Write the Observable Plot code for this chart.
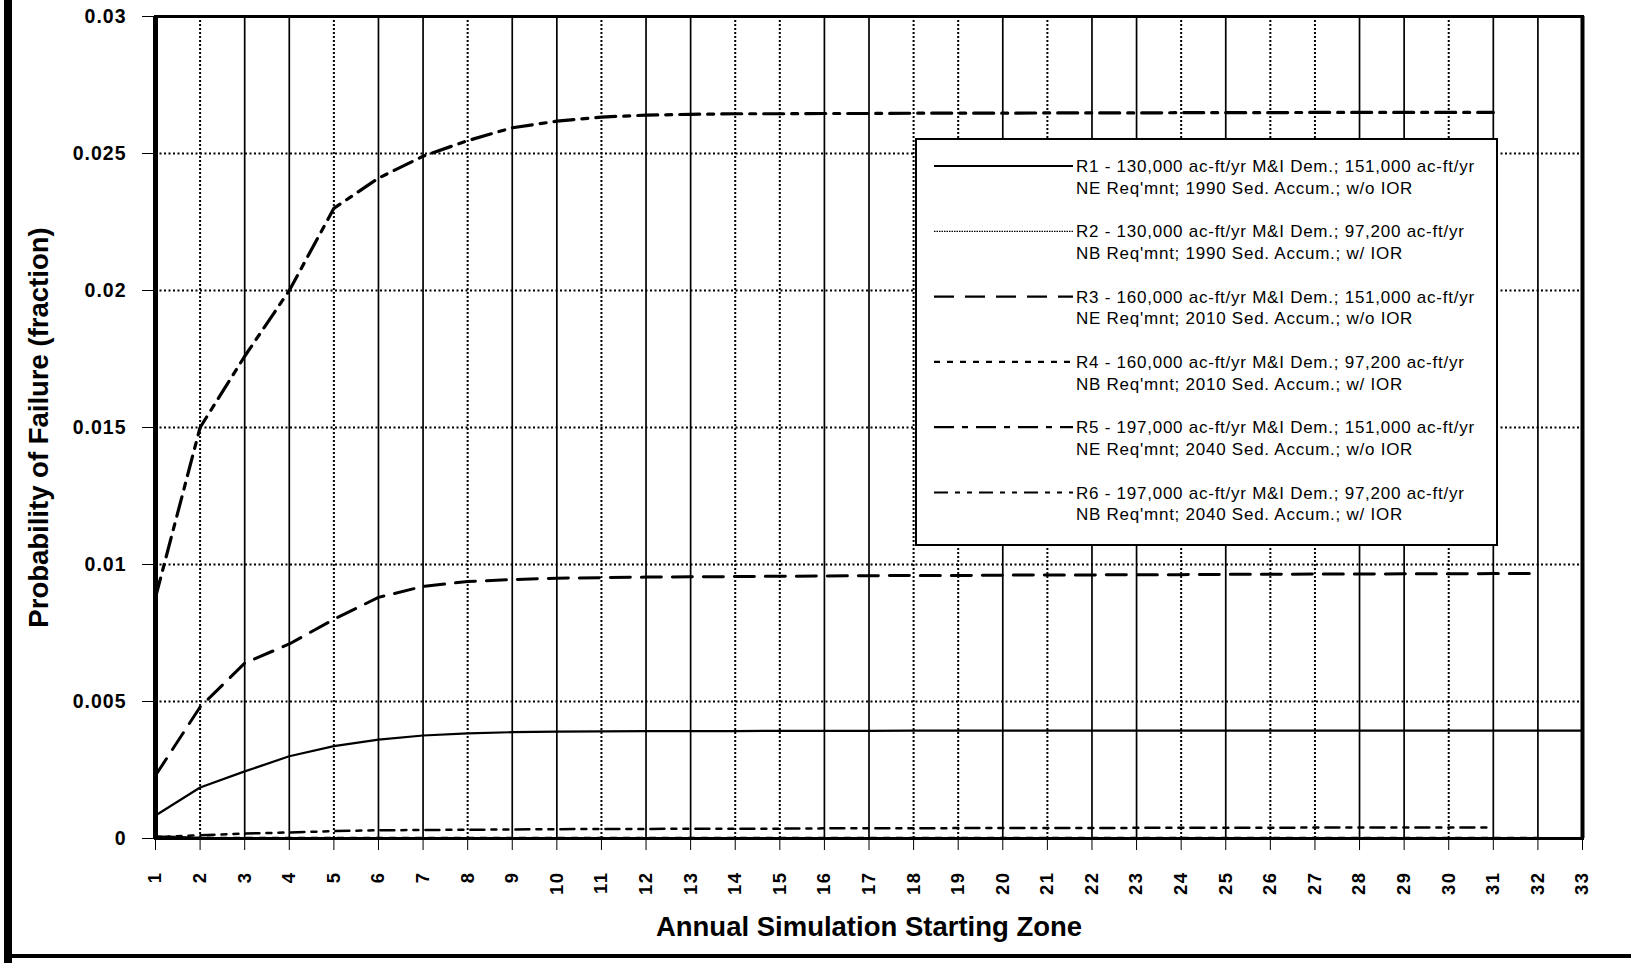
<!DOCTYPE html>
<html>
<head>
<meta charset="utf-8">
<script src="https://cdn.jsdelivr.net/npm/d3@7"></script>
<script src="https://cdn.jsdelivr.net/npm/@observablehq/plot@0.6"></script>
<style>
  html, body { margin: 0; padding: 0; background: #fff; }
  #wrap { position: relative; width: 1631px; height: 963px; overflow: hidden; background: #fff; }
  #chart svg { display: block; }
  .edge { position: absolute; background: #000; }
  #legend { position: absolute; left: 915px; top: 138px; overflow: visible; }
  #chart [aria-label="y-axis tick label"] { font-size: 19.5px; letter-spacing: 1px; }
  #chart [aria-label="x-axis tick label"] { font-size: 18.5px; letter-spacing: 1.5px; }
  #chart [aria-label="y-axis label"], #chart [aria-label="x-axis label"] { font-size: 27.5px; font-weight: bold; }
  #legend text { letter-spacing: 0.75px; }
</style>
</head>
<body>
<div id="wrap">
  <div id="chart"></div>
  <svg id="legend" width="583" height="408"></svg>
  <div class="edge" style="left:4px;top:0;width:8px;height:963px"></div>
  <div class="edge" style="left:12px;top:954px;width:1619px;height:4px"></div>
</div>
<script>
// Annual simulation starting zones (x axis)
const zones = [1, 2, 3, 4, 5, 6, 7, 8, 9, 10, 11, 12, 13, 14, 15, 16, 17,
               18, 19, 20, 21, 22, 23, 24, 25, 26, 27, 28, 29, 30, 31, 32, 33];

// Probability of failure by starting zone, one array per run
const r1 = [0.00084, 0.00186, 0.00245, 0.00300, 0.00337, 0.00361, 0.00376, 0.00384, 0.00388, 0.00390,
            0.00391, 0.00392, 0.00392, 0.00392, 0.00393, 0.00393, 0.00393, 0.00394, 0.00394, 0.00394,
            0.00394, 0.00394, 0.00394, 0.00394, 0.00394, 0.00394, 0.00394, 0.00394, 0.00394, 0.00394,
            0.00394, 0.00394, 0.00394];
const r2 = [0.00002, 0.00001, 0.00001, 0.00001, 0.00001, 0.00001, 0.00001, 0.00001, 0.00001, 0.00001,
            0.00001, 0.00001, 0.00001, 0.00001, 0.00001, 0.00001, 0.00001, 0.00001, 0.00001, 0.00001,
            0.00001, 0.00001, 0.00001, 0.00001, 0.00001, 0.00001, 0.00001, 0.00001, 0.00001, 0.00001,
            0.00001, 0.00001, 0.00001];
const r3 = [0.00230, 0.00480, 0.00640, 0.00710, 0.00800, 0.00880, 0.00920, 0.00938, 0.00945, 0.00950,
            0.00952, 0.00954, 0.00955, 0.00956, 0.00957, 0.00958, 0.00959, 0.00960, 0.00960, 0.00961,
            0.00962, 0.00962, 0.00963, 0.00963, 0.00964, 0.00964, 0.00965, 0.00965, 0.00966, 0.00966,
            0.00967, 0.00967];
const r4 = [0.00008, 0.00003, 0.00002, 0.00002, 0.00002, 0.00002, 0.00002, 0.00002, 0.00002, 0.00002,
            0.00002, 0.00002, 0.00002, 0.00002, 0.00002, 0.00002, 0.00002, 0.00002, 0.00002, 0.00002,
            0.00002, 0.00002, 0.00002, 0.00002, 0.00002, 0.00002, 0.00002, 0.00002, 0.00002, 0.00002,
            0.00002, 0.00002];
const r5 = [0.00880, 0.01500, 0.01760, 0.02000, 0.02300, 0.02410, 0.02490, 0.02547, 0.02594, 0.02618,
            0.02633, 0.02640, 0.02643, 0.02645, 0.02645, 0.02646, 0.02646, 0.02647, 0.02647, 0.02647,
            0.02648, 0.02648, 0.02648, 0.02649, 0.02649, 0.02649, 0.02650, 0.02650, 0.02650, 0.02650,
            0.02650];
const r6 = [0.00005, 0.00012, 0.00018, 0.00022, 0.00027, 0.00030, 0.00031, 0.00032, 0.00033, 0.00034,
            0.00035, 0.00035, 0.00036, 0.00036, 0.00036, 0.00037, 0.00037, 0.00037, 0.00038, 0.00038,
            0.00038, 0.00038, 0.00039, 0.00039, 0.00039, 0.00039, 0.00040, 0.00040, 0.00040, 0.00040,
            0.00040];

const seriesNames = ["R1", "R2", "R3", "R4", "R5", "R6"];
const seriesValues = [r1, r2, r3, r4, r5, r6];

// Legend text, two lines per run
const legendText = [
  ["R1 - 130,000 ac-ft/yr M&I Dem.; 151,000 ac-ft/yr", "NE Req'mnt; 1990 Sed. Accum.; w/o IOR"],
  ["R2 - 130,000 ac-ft/yr M&I Dem.; 97,200 ac-ft/yr", "NB Req'mnt; 1990 Sed. Accum.; w/ IOR"],
  ["R3 - 160,000 ac-ft/yr M&I Dem.; 151,000 ac-ft/yr", "NE Req'mnt; 2010 Sed. Accum.; w/o IOR"],
  ["R4 - 160,000 ac-ft/yr M&I Dem.; 97,200 ac-ft/yr", "NB Req'mnt; 2010 Sed. Accum.; w/ IOR"],
  ["R5 - 197,000 ac-ft/yr M&I Dem.; 151,000 ac-ft/yr", "NE Req'mnt; 2040 Sed. Accum.; w/o IOR"],
  ["R6 - 197,000 ac-ft/yr M&I Dem.; 97,200 ac-ft/yr", "NB Req'mnt; 2040 Sed. Accum.; w/ IOR"]
];

const yTicks = [0, 0.005, 0.01, 0.015, 0.02, 0.025, 0.03];
const yTickLabels = ["0", "0.005", "0.01", "0.015", "0.02", "0.025", "0.03"];
const yLabel = "Probability of Failure (fraction)";
const xLabel = "Annual Simulation Starting Zone";

// Line styles per run
const lineStyle = {
  R1: {strokeWidth: 2.2, dash: null},
  R2: {strokeWidth: 1.2, dash: "1.5,1"},
  R3: {strokeWidth: 3, dash: "20,11"},
  R4: {strokeWidth: 2.2, dash: "6,7"},
  R5: {strokeWidth: 3.2, dash: "20,8,6,8"},
  R6: {strokeWidth: 2.5, dash: "14,7,5,7,5,7"}
};
// Vertical grid lines drawn dotted rather than solid
const dottedGrid = new Set([2, 5, 8, 11, 14, 15, 18, 19, 21, 24, 26, 27, 30]);

const rows = seriesNames.flatMap((name, i) =>
  seriesValues[i].map((v, j) => ({zone: zones[j], value: v, series: name})));

const innerZones = zones.slice(1, -1);
const gridTicks = yTicks.slice(1, -1);

const lineMarks = seriesNames.map(name => Plot.line(rows.filter(d => d.series === name), {
  x: "zone", y: "value", stroke: "#000",
  strokeWidth: lineStyle[name].strokeWidth,
  strokeDasharray: lineStyle[name].dash || undefined,
  strokeLinejoin: "round"
}));

const chart = Plot.plot({
  width: 1631,
  height: 963,
  marginLeft: 155,
  marginRight: 49,
  marginTop: 16,
  marginBottom: 125,
  style: {fontFamily: "'Liberation Sans', Arial, sans-serif", fontSize: "17px", fontWeight: "bold", color: "#000", background: "#fff"},
  x: {domain: [zones[0], zones[zones.length - 1]]},
  y: {domain: [yTicks[0], yTicks[yTicks.length - 1]]},
  marks: [
    Plot.ruleX(innerZones.filter(z => !dottedGrid.has(z)), {stroke: "#000", strokeWidth: 1.7}),
    Plot.ruleX(innerZones.filter(z => dottedGrid.has(z)), {stroke: "#000", strokeWidth: 2, strokeDasharray: "2,2"}),
    Plot.ruleY(gridTicks, {stroke: "#000", strokeWidth: 2, strokeDasharray: "2,2.5"}),
    ...lineMarks,
    Plot.frame({stroke: "#000", strokeWidth: 3}),
    Plot.ruleX([zones[0]], {stroke: "#000", strokeWidth: 5}),
    Plot.ruleX([zones[zones.length - 1]], {stroke: "#000", strokeWidth: 4}),
    Plot.axisY({
      ticks: yTicks, tickFormat: (d) => yTickLabels[yTicks.indexOf(d)],
      tickSize: 13, tickPadding: 16, fontSize: 19.5, fontWeight: "bold",
      label: yLabel, labelAnchor: "center", labelOffset: 127, labelArrow: "none"
    }),
    Plot.axisX({
      ticks: zones, tickFormat: d => String(d), tickRotate: -90,
      tickSize: 12, tickPadding: 21, fontSize: 18.5, fontWeight: "bold",
      label: xLabel, labelAnchor: "center", labelOffset: 97, labelArrow: "none"
    })
  ]
});
document.getElementById("chart").appendChild(chart);

// Legend box drawn over the plot area
const legend = d3.select("#legend");
const lw = 583, lh = 408;
legend.append("rect").attr("x", 1).attr("y", 1).attr("width", lw - 2).attr("height", lh - 2)
  .attr("fill", "#fff").attr("stroke", "#000").attr("stroke-width", 2);
const rowStep = 65.3;
seriesNames.forEach((name, i) => {
  const cy = 28 + i * rowStep;
  const st = lineStyle[name];
  legend.append("line").attr("x1", 19).attr("x2", 158).attr("y1", cy).attr("y2", cy)
    .attr("stroke", "#000").attr("stroke-width", Math.min(st.strokeWidth, 2.2))
    .attr("stroke-dasharray", st.dash);
  legendText[i].forEach((t, k) => {
    legend.append("text").attr("x", 161).attr("y", cy + 6 + k * 21.6)
      .attr("font-family", "'Liberation Sans', Arial, sans-serif")
      .attr("font-size", 17).attr("fill", "#000").text(t);
  });
});
</script>
</body>
</html>
